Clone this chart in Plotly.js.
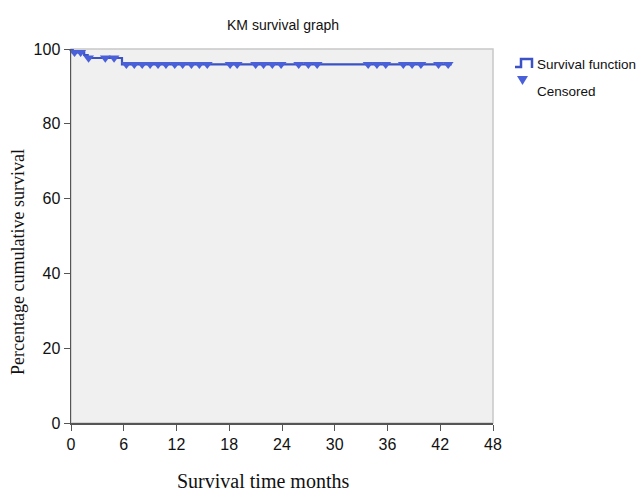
<!DOCTYPE html>
<html>
<head>
<meta charset="utf-8">
<script src="https://cdn.plot.ly/plotly-3.0.1.min.js"></script>
<style>html,body{margin:0;padding:0;background:#fff;}#chart{width:638px;height:491px;}</style>
</head>
<body>
<div id="chart"></div>
<script>
// Kaplan-Meier step function (time in months, % survival)
var stepTimes = [0, 0.2, 1.5, 1.9, 5.8, 43.3];
var stepSurvival = [100, 99.1, 98.4, 97.6, 95.9, 95.9];

// Censored observations
var censoredTimes = [0.4, 1.1, 2.0, 3.9, 4.9,
  6.3, 7.2, 8.1, 9.0, 9.9, 10.8, 11.8, 12.7, 13.7, 14.6, 15.5,
  18.1, 18.9, 21.0, 21.9, 22.9, 23.9, 25.9, 27.0, 28.0,
  33.8, 34.8, 35.8, 37.8, 38.8, 39.8, 41.8, 42.9];
var censoredSurvival = [99.1, 99.1, 97.6, 97.6, 97.6,
  95.9, 95.9, 95.9, 95.9, 95.9, 95.9, 95.9, 95.9, 95.9, 95.9, 95.9,
  95.9, 95.9, 95.9, 95.9, 95.9, 95.9, 95.9, 95.9, 95.9,
  95.9, 95.9, 95.9, 95.9, 95.9, 95.9, 95.9, 95.9];

var xTicks = [0, 6, 12, 18, 24, 30, 36, 42, 48];
var yTicks = [0, 20, 40, 60, 80, 100];
var legendLabels = ['Survival function', 'Censored'];

var narrow = "Liberation Sans Narrow, Arial Narrow, Liberation Sans, Arial, sans-serif";
var serif = "Liberation Serif, Times New Roman, DejaVu Serif, serif";
var lineColor = '#3a52c4';
var markColor = '#4a60d8';

// pixel helpers for placing text/legend relative to the plot area (l=71, w=422, t=49, h=374)
function px(x) { return (x - 71) / 422; }
function py(y) { return (423 - y) / 374; }

var traces = [
  {x: stepTimes, y: stepSurvival, type: 'scatter', mode: 'lines', name: legendLabels[0],
   line: {shape: 'hv', color: lineColor, width: 2.2}, cliponaxis: false},
  {x: censoredTimes, y: censoredSurvival, type: 'scatter', mode: 'markers', name: legendLabels[1],
   marker: {symbol: 'triangle-down', size: 9.5, color: markColor, line: {width: 0}}, cliponaxis: false}
];

var layout = {
  width: 638, height: 491,
  margin: {l: 71, r: 145, t: 49, b: 68},
  paper_bgcolor: '#ffffff',
  plot_bgcolor: '#f0f0f0',
  showlegend: false,
  xaxis: {range: [0, 48], tickvals: xTicks, ticktext: xTicks.map(String), showgrid: false, zeroline: false,
          showline: true, linecolor: '#555', linewidth: 1.5, ticks: 'outside', ticklen: 6, tickcolor: '#555',
          tickfont: {family: narrow, size: 16, color: '#111'}},
  yaxis: {range: [0, 100], tickvals: yTicks, ticktext: yTicks.map(String), showgrid: false, zeroline: false,
          showline: true, linecolor: '#555', linewidth: 1.5, ticks: 'outside', ticklen: 6, tickcolor: '#555',
          tickfont: {family: narrow, size: 16, color: '#111'}},
  annotations: [
    {text: 'KM survival graph', xref: 'paper', yref: 'paper', x: px(283), y: py(25),
     xanchor: 'center', yanchor: 'middle', showarrow: false, font: {family: narrow, size: 14, color: '#111'}},
    {text: 'Survival time months', xref: 'paper', yref: 'paper', x: px(263), y: py(481),
     xanchor: 'center', yanchor: 'middle', showarrow: false, font: {family: serif, size: 20, color: '#111'}},
    {text: 'Percentage cumulative survival', xref: 'paper', yref: 'paper', x: px(18), y: py(262),
     xanchor: 'center', yanchor: 'middle', textangle: -90, showarrow: false,
     font: {family: serif, size: 18, color: '#111'}},
    {text: legendLabels[0], xref: 'paper', yref: 'paper', x: px(535), y: py(64),
     xanchor: 'left', yanchor: 'middle', showarrow: false, font: {family: narrow, size: 13.5, color: '#111'}},
    {text: legendLabels[1], xref: 'paper', yref: 'paper', x: px(535), y: py(91),
     xanchor: 'left', yanchor: 'middle', showarrow: false, font: {family: narrow, size: 13.5, color: '#111'}}
  ],
  shapes: [
    {type: 'rect', xref: 'paper', yref: 'paper', x0: 0, x1: 1, y0: 0, y1: 1,
     line: {color: '#c8c8c8', width: 1.5}, fillcolor: 'rgba(0,0,0,0)', layer: 'below'},
    // legend step symbol
    {type: 'path', xref: 'paper', yref: 'paper',
     path: 'M' + px(515) + ',' + py(67) + ' L' + px(521) + ',' + py(67) + ' L' + px(521) + ',' + py(59) +
           ' L' + px(532) + ',' + py(59) + ' L' + px(532) + ',' + py(68),
     line: {color: lineColor, width: 2.5}},
    // legend censored triangle
    {type: 'path', xref: 'paper', yref: 'paper',
     path: 'M' + px(517) + ',' + py(76) + ' L' + px(528) + ',' + py(76) + ' L' + px(522.5) + ',' + py(85) + ' Z',
     line: {width: 0}, fillcolor: markColor}
  ]
};

Plotly.newPlot('chart', traces, layout, {displayModeBar: false, staticPlot: true});
</script>
</body>
</html>
